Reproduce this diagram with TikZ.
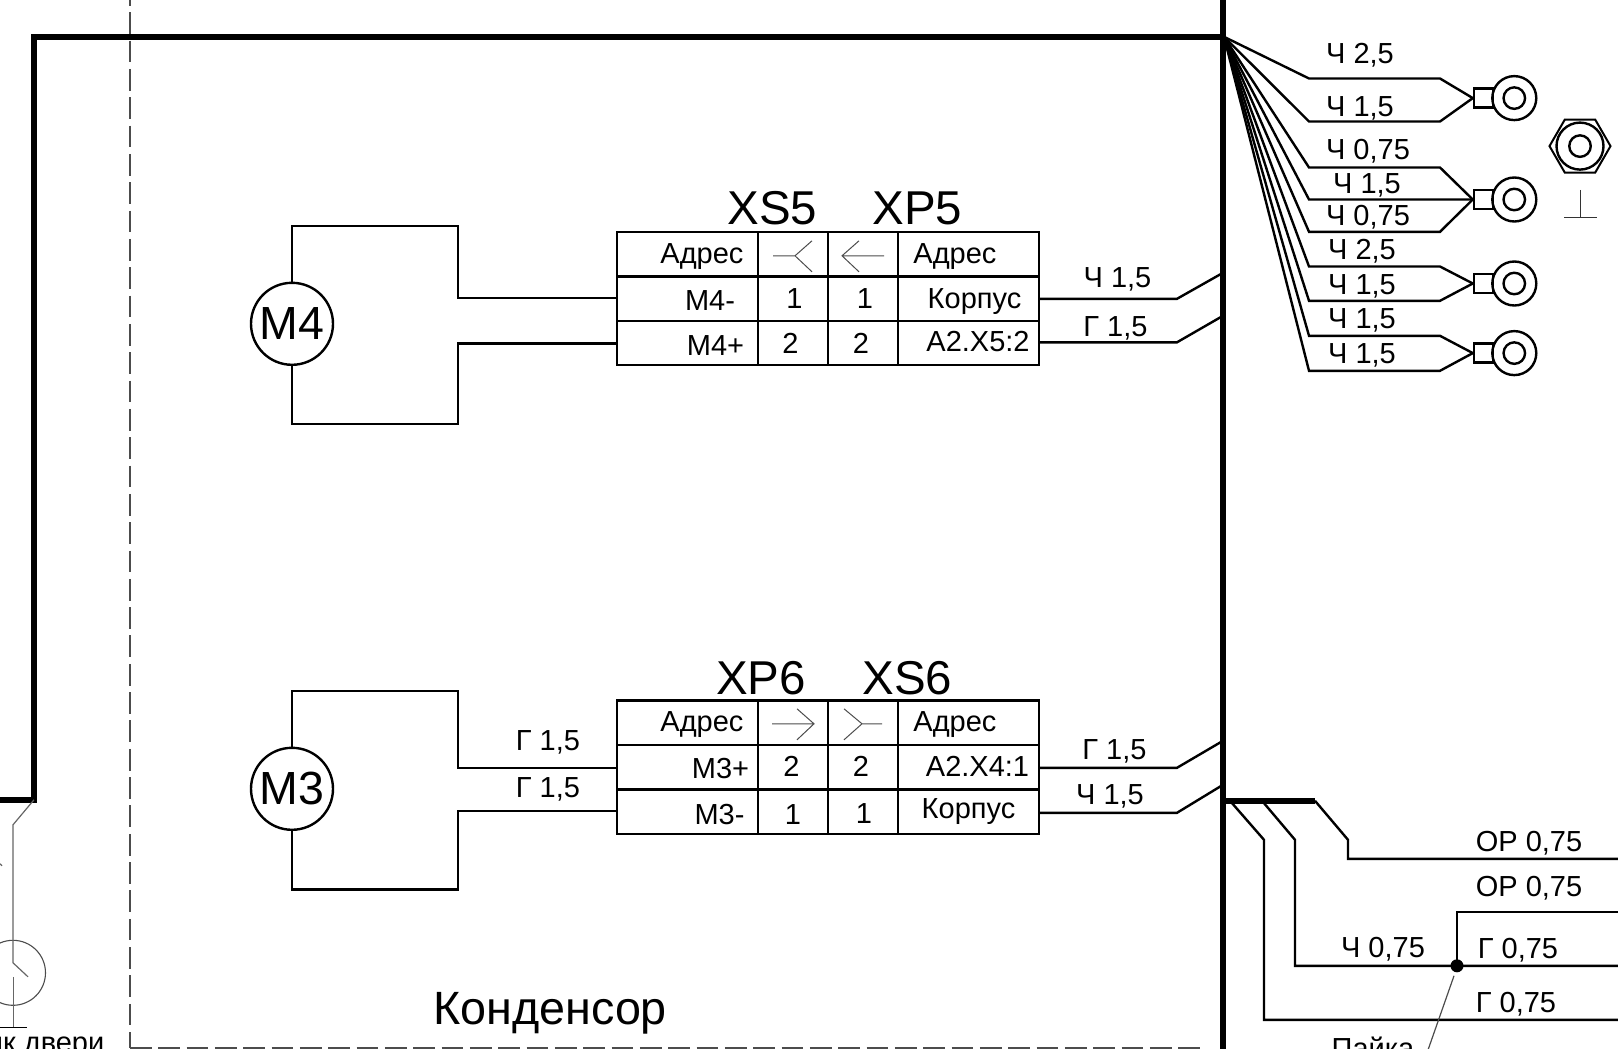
\documentclass[tikz,border=0pt]{standalone}
\usepackage{fontspec}
\setmainfont{Liberation Sans}
\usetikzlibrary{shapes.geometric}
\tikzset{
  wire/.style={line width=2.4pt,black,line join=miter},
  bus/.style={line width=5.6pt,black},
  thin wire/.style={line width=1.2pt,black!60},
  sym/.style={line width=1pt,black!70},
  grid/.style={line width=2.4pt,black},
  dashb/.style={line width=1.7pt,black!70,dash pattern=on 21.7pt off 6.63pt},
  lbl/.style={anchor=base,inner sep=0pt,font=\fontsize{29}{30}\selectfont},
  big/.style={anchor=base,inner sep=0pt,font=\fontsize{47.5}{48}\selectfont},
  motor/.style={circle,draw,line width=2.4pt,minimum size=82pt,inner sep=0pt,font=\fontsize{46.5}{48}\selectfont},
  ring/.style={circle,draw,line width=2.4pt,inner sep=0pt}
}
\begin{document}
\begin{tikzpicture}[x=1pt,y=-1pt]
\useasboundingbox (0,0) rectangle (1618,1049);
\clip (0,0) rectangle (1618,1049);
\begin{scope}[yshift=-0.8pt]
% frames
\draw[dashb,dash phase=14.9pt] (130,-2) -- (130,1047);
\draw[dashb] (130,1047) -- (1200,1047) -- (1200,1052);
% buses
\coordinate (fan) at (1224,36);
\coordinate (tl) at (34,36);
\coordinate (bl) at (34,799);
\coordinate (busT) at (1223,-2);
\coordinate (busB) at (1223,1052);
\coordinate (leftEnd) at (-2,799);
\draw[bus] (busT) -- (busB);
\draw[bus,line join=miter] (fan) -- (tl) -- (bl) -- (leftEnd);
% left switch
\node[circle,draw,line width=1.1pt,black!70,minimum size=65pt,inner sep=0pt] (doorsw) at (13,972) {};
\coordinate (sw1) at (13,824); \coordinate (sw2) at (13,962); \coordinate (sw3) at (28,976);
\coordinate (sw4) at (13.3,976); \coordinate (sw5) at (13.3,1027);
\coordinate (g1) at (-2,1027); \coordinate (g2) at (27,1027);
\draw[thin wire] (bl) -- (sw1) -- (sw2) -- (sw3);
\draw[thin wire] (sw4) -- (sw5);
\draw[thin wire,black] (g1) -- (g2);
\coordinate (ma) at (0,863); \coordinate (mb) at (2,865);
\draw[thin wire] (ma) -- (mb);
\node[lbl,anchor=base east] (door) at (104.5,1052) {ик двери};
% motor M4 and its wires
\node[motor] (m4) at (292,323) {M4};
\coordinate (t5a) at (617,231); \coordinate (t5b) at (1039,364);
\draw[grid] (t5a) rectangle (t5b);
\draw[grid] (758,231) -- (758,364) (828,231) -- (828,364) (898,231) -- (898,364);
\draw[grid] (617,275.5) -- (1039,275.5) (617,320) -- (1039,320);
\draw[wire] (m4.north) -- (292,225) -- (458,225) -- (458,297) -- (617,297);
\draw[wire] (m4.south) -- (292,423) -- (458,423) -- (458,342.5) -- (617,342.5);
\draw[wire] (1039,298) -- (1177,298) -- (1223,272);
\draw[wire] (1039,341.5) -- (1177,341.5) -- (1223,315);
% connector symbols 5
\draw[sym] (773,255) -- (795,255) (812,240) -- (795,255) -- (812,271);
\draw[sym] (884,255) -- (842,255) (859,240) -- (842,255) -- (859,271);
% labels table 5
\node[big] (xs5) at (772.5,224) {XS5};
\node[big] (xp5) at (917.5,224) {XP5};
\node[lbl] (a1) at (702,263) {Адрес};
\node[lbl] (a2) at (955,263) {Адрес};
\node[lbl] (a3) at (710,310) {М4-};
\node[lbl] (a4) at (794.5,307.5) {1};
\node[lbl] (a5) at (865,307.5) {1};
\node[lbl] (a6) at (974.5,308) {Корпус};
\node[lbl] (a7) at (715.5,355) {М4+};
\node[lbl] (a8) at (790.5,352.5) {2};
\node[lbl] (a9) at (861,352.5) {2};
\node[lbl] (a10) at (978,351) {А2.Х5:2};
\node[lbl] (w1) at (1117.5,287) {Ч 1,5};
\node[lbl] (w2) at (1115.5,335.5) {Г 1,5};
% motor M3 and its wires
\node[motor] (m3) at (292,788) {M3};
\coordinate (t6a) at (617,699.6); \coordinate (t6b) at (1039,833);
\draw[grid] (t6a) rectangle (t6b);
\draw[grid] (758,699.6) -- (758,833) (828,699.6) -- (828,833) (898,699.6) -- (898,833);
\draw[grid] (617,744) -- (1039,744) (617,788.5) -- (1039,788.5);
\draw[wire] (m3.north) -- (292,690) -- (458,690) -- (458,767) -- (617,767);
\draw[wire] (m3.south) -- (292,888.5) -- (458,888.5) -- (458,810) -- (617,810);
\draw[wire] (1039,767) -- (1177,767) -- (1223,740);
\draw[wire] (1039,812) -- (1177,812) -- (1223,784);
% connector symbols 6
\draw[sym] (772,723) -- (814,723) (797,708) -- (814,723) -- (797,739);
\draw[sym] (882,723) -- (862,723) (844,708) -- (862,723) -- (844,739);
% labels table 6
\node[big] (xp6) at (761,693.5) {XP6};
\node[big] (xs6) at (907.5,693.5) {XS6};
\node[lbl] (b1) at (702,731) {Адрес};
\node[lbl] (b2) at (955,731) {Адрес};
\node[lbl] (b3) at (720.5,778) {М3+};
\node[lbl] (b4) at (791.5,775.5) {2};
\node[lbl] (b5) at (861,775.5) {2};
\node[lbl] (b6) at (977.5,775.5) {А2.Х4:1};
\node[lbl] (b7) at (719.5,823.5) {М3-};
\node[lbl] (b8) at (793,823.5) {1};
\node[lbl] (b9) at (864,822.5) {1};
\node[lbl] (b10) at (968.5,818) {Корпус};
\node[lbl] (w3) at (548,749.5) {Г 1,5};
\node[lbl] (w4) at (548,796.5) {Г 1,5};
\node[lbl] (w5) at (1114.5,758.5) {Г 1,5};
\node[lbl] (w6) at (1110,803.5) {Ч 1,5};
\node[anchor=base west,inner sep=0pt,font=\fontsize{46.7}{48}\selectfont] (kond) at (433,1023.5) {Конденсор};
% ring lugs
\foreach \n/\yy in {1/97.3,2/198.7,3/282.7,4/352.3}{
  \node[ring,minimum size=44pt] (r\n) at (1514.3,\yy) {};
  \node[ring,minimum size=21.5pt] (ri\n) at (1514.3,\yy) {};
  \node[rectangle,draw,line width=2.4pt,minimum width=19pt,minimum height=19pt,inner sep=0pt] (s\n) at (1483.5,\yy) {};
}
% fan wires
\draw[wire] (fan) -- (1309,77.7) -- (1440,77.7) -- (s1.west);
\draw[wire] (fan) -- (1309,120.7) -- (1440,120.7) -- (s1.west);
\draw[wire] (fan) -- (1309,166.7) -- (1440,166.7) -- (s2.west);
\draw[wire] (fan) -- (1309,198.7) -- (s2.west);
\draw[wire] (fan) -- (1309,231) -- (1440,231) -- (s2.west);
\draw[wire] (fan) -- (1309,265.7) -- (1440,265.7) -- (s3.west);
\draw[wire] (fan) -- (1309,300) -- (1440,300) -- (s3.west);
\draw[wire] (fan) -- (1309,335) -- (1440,335) -- (s4.west);
\draw[wire] (fan) -- (1309,370) -- (1440,370) -- (s4.west);
\node[lbl] (f1) at (1360,62.5) {Ч 2,5};
\node[lbl] (f2) at (1360,115.5) {Ч 1,5};
\node[lbl] (f3) at (1368,159) {Ч 0,75};
\node[lbl] (f4) at (1367,193) {Ч 1,5};
\node[lbl] (f5) at (1368,225) {Ч 0,75};
\node[lbl] (f6) at (1362,259) {Ч 2,5};
\node[lbl] (f7) at (1362,293.5) {Ч 1,5};
\node[lbl] (f8) at (1362,328) {Ч 1,5};
\node[lbl] (f9) at (1362,362.7) {Ч 1,5};
% nut and ground
\node[regular polygon,regular polygon sides=6,shape border rotate=0,draw,line width=2pt,minimum size=61pt,inner sep=0pt] (nut) at (1580,145.3) {};
\node[ring,minimum size=47pt] (nut1) at (1580,145.3) {};
\node[ring,minimum size=21.5pt] (nut2) at (1580,145.3) {};
\coordinate (gt) at (1580.3,189); \coordinate (gb) at (1580.3,216.7);
\coordinate (gl) at (1564,216.7); \coordinate (gr) at (1597,216.7);
\draw[thin wire,line width=1pt,black!80] (gt) -- (gb) (gl) -- (gr);
% bottom right wires
\coordinate (j) at (1223,800); \coordinate (j2) at (1315,800);
\draw[bus] (j) -- (j2);
\draw[wire] (j2) -- (1348,839) -- (1348,858) -- (1618,858);
\draw[wire] (1262,800) -- (1295,839) -- (1295,965) -- (1618,965);
\draw[wire] (1230,800) -- (1264,839) -- (1264,1019) -- (1618,1019);
\node[circle,fill=black,minimum size=13pt,inner sep=0pt] (dot) at (1457,965) {};
\draw[wire] (dot.center) -- (1457,911) -- (1618,911);
\coordinate (lead) at (1427,1052);
\draw[thin wire,black!70] (1454,975) -- (lead);
\node[lbl] (c1) at (1529,851) {ОР 0,75};
\node[lbl] (c2) at (1529,896) {ОР 0,75};
\node[lbl] (c3) at (1383,956.5) {Ч 0,75};
\node[lbl] (c4) at (1518,958) {Г 0,75};
\node[lbl] (c5) at (1516,1012) {Г 0,75};
\node[lbl] (c6) at (1373,1058) {Пайка};
\end{scope}
\end{tikzpicture}
\end{document}
